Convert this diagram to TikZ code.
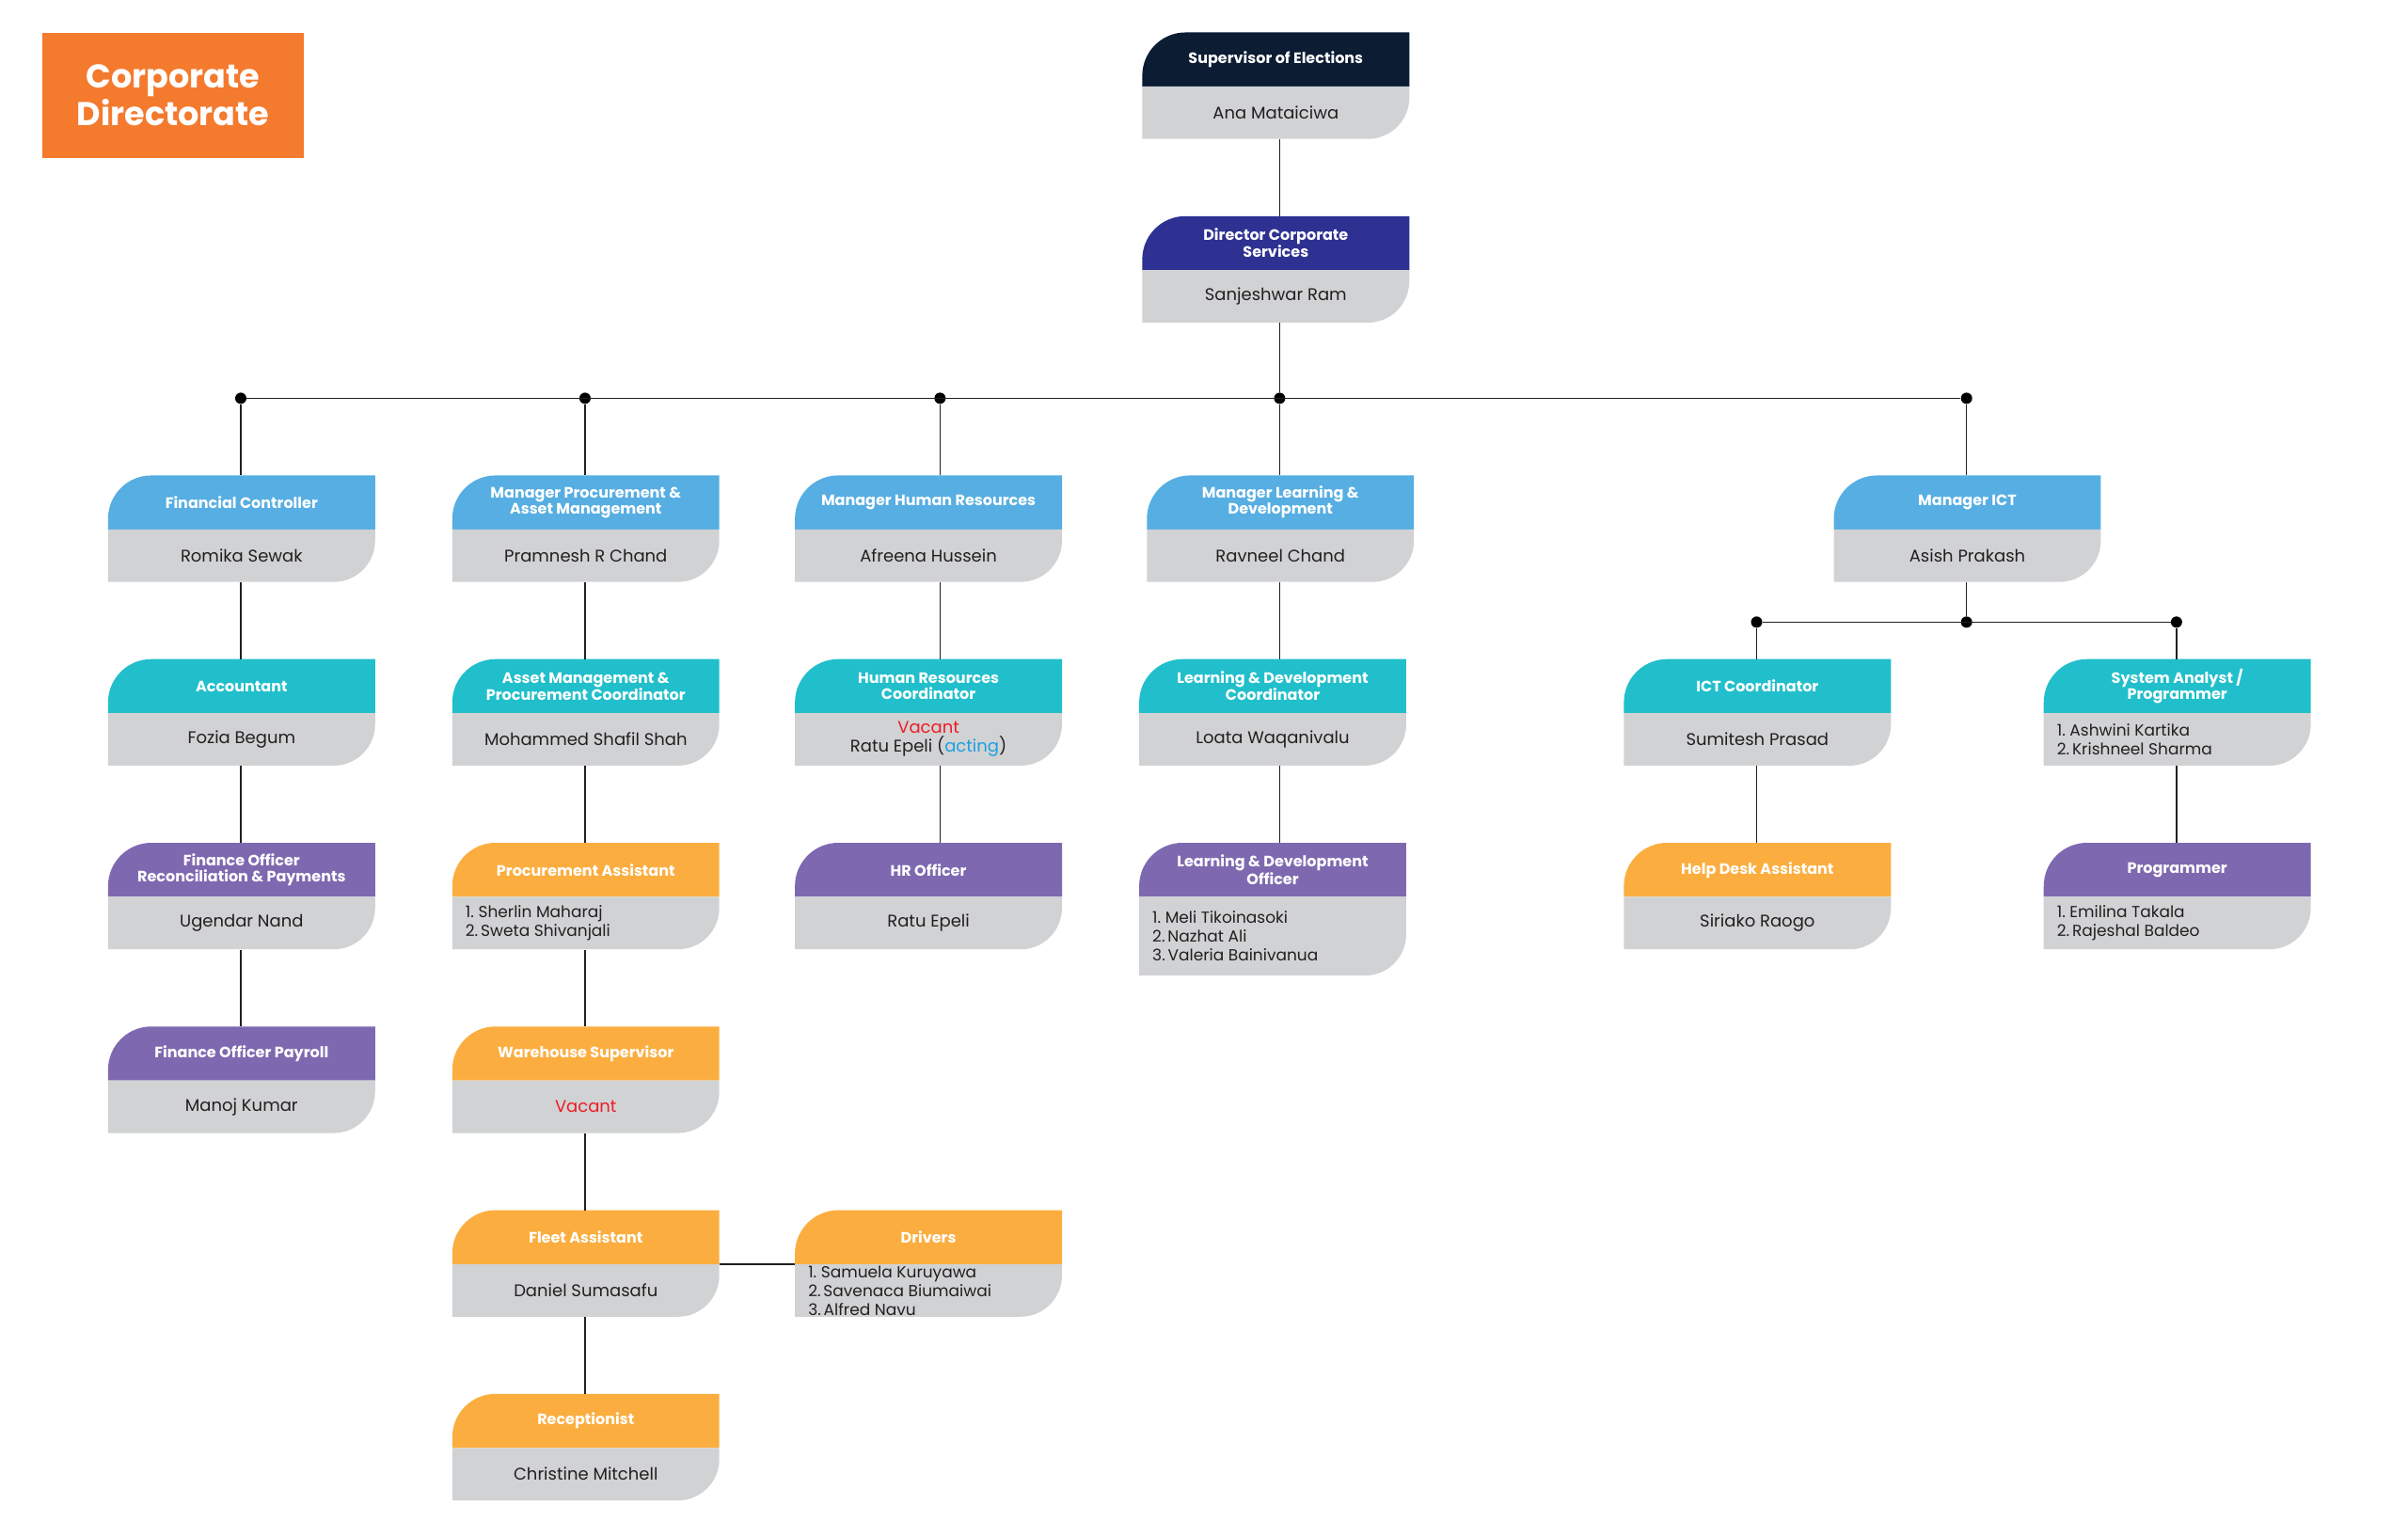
\documentclass[tikz,border=0pt]{standalone}
\usepackage{fontspec}
\setmainfont{Poppins}
\definecolor{cnavy}{HTML}{0C1C33}
\definecolor{cindigo}{HTML}{2E3192}
\definecolor{clblue}{HTML}{56AEE2}
\definecolor{cteal}{HTML}{21BFCB}
\definecolor{cpurple}{HTML}{7E69B0}
\definecolor{corange}{HTML}{FBAE3F}
\definecolor{cgrey}{HTML}{D1D2D4}
\definecolor{ctitle}{HTML}{F47A2E}
\definecolor{ctext}{HTML}{231F20}
\definecolor{cred}{HTML}{ED1C24}
\definecolor{cacting}{HTML}{1BA1E2}
\tikzset{
 htext/.style={text=white,font=\fontsize{16}{17}\selectfont\bfseries,align=center,inner sep=0pt},
 btext/.style={text=ctext,font=\fontsize{18}{20}\selectfont,align=center,inner sep=0pt},
 ltext/.style={text=ctext,font=\fontsize{17}{20}\selectfont,align=left,inner sep=0pt,anchor=west,xshift=-128pt},
 conn/.style={line width=1.6pt,draw=ctext},
 dot/.style={circle,fill=black,inner sep=0pt,minimum size=12pt},
}
% name, x, y, color, title, bodyh, bodystyle, body
\newcommand\obox[8]{%
 \node[inner sep=0pt,minimum width=284pt,minimum height={(35+#6)*1.641pt},anchor=north west] (#1) at (#2,#3) {};
 \fill[#4] (#2,#3+35) [rounded corners=46pt] -- (#2,#3) [sharp corners] -- (#2+173,#3) -- (#2+173,#3+35) -- cycle;
 \fill[cgrey] (#2,#3+35) -- (#2+173,#3+35) [rounded corners=44pt] -- (#2+173,#3+35+#6) [sharp corners] -- (#2,#3+35+#6) -- cycle;
 \node[htext] at (#2+86.5,#3+17.5) {#5};
 \node[#7] at (#2+86.5,#3+35+#6/2) {#8};
}
\begin{document}
\begin{tikzpicture}[x=1.641pt,y=-1.641pt]
\useasboundingbox (0,0) rectangle (1560,995.7);
% title
\node[fill=ctitle,minimum width={170*1.641pt},minimum height={81*1.641pt},anchor=north west,text=white,font=\fontsize{35}{40}\selectfont\bfseries,align=center,inner sep=0pt] (title) at (27,21) {Corporate\\Directorate};
% boxes
\obox{sup}{740}{21}{cnavy}{Supervisor of Elections}{34}{btext}{Ana Mataiciwa}
\obox{dir}{740}{140}{cindigo}{Director Corporate\\Services}{34}{btext}{Sanjeshwar Ram}
% col1
\obox{fc}{70}{308}{clblue}{Financial Controller}{34}{btext}{Romika Sewak}
\obox{acc}{70}{427}{cteal}{Accountant}{34}{btext}{Fozia Begum}
\obox{for}{70}{546}{cpurple}{Finance Officer\\Reconciliation \& Payments}{34}{btext}{Ugendar Nand}
\obox{fop}{70}{665}{cpurple}{Finance Officer Payroll}{34}{btext}{Manoj Kumar}
% col2
\obox{mpa}{293}{308}{clblue}{Manager Procurement \&\\Asset Management}{34}{btext}{Pramnesh R Chand}
\obox{amp}{293}{427}{cteal}{Asset Management \&\\Procurement Coordinator}{34}{btext}{Mohammed Shafil Shah}
\obox{pa}{293}{546}{corange}{Procurement Assistant}{34}{ltext}{1.\ Sherlin Maharaj\\2.\,Sweta Shivanjali}
\obox{ws}{293}{665}{corange}{Warehouse Supervisor}{34}{btext}{\textcolor{cred}{Vacant}}
\obox{fa}{293}{784}{corange}{Fleet Assistant}{34}{btext}{Daniel Sumasafu}
\obox{rec}{293}{903}{corange}{Receptionist}{34}{btext}{Christine Mitchell}
\obox{drv}{515}{784}{corange}{Drivers}{34}{ltext}{1.\ Samuela Kuruyawa\\2.\,Savenaca Biumaiwai\\3.\,Alfred Navu}
% col3
\obox{mhr}{515}{308}{clblue}{Manager Human Resources}{34}{btext}{Afreena Hussein}
\obox{hrc}{515}{427}{cteal}{Human Resources\\Coordinator}{34}{btext}{\textcolor{cred}{Vacant}\\Ratu Epeli (\textcolor{cacting}{acting})}
\obox{hro}{515}{546}{cpurple}{HR Officer}{34}{btext}{Ratu Epeli}
% col4
\obox{mld}{743}{308}{clblue}{Manager Learning \&\\Development}{34}{btext}{Ravneel Chand}
\obox{ldc}{738}{427}{cteal}{Learning \& Development\\Coordinator}{34}{btext}{Loata Waqanivalu}
\obox{ldo}{738}{546}{cpurple}{Learning \& Development\\Officer}{51}{ltext}{1.\ Meli Tikoinasoki\\2.\,Nazhat Ali\\3.\,Valeria Bainivanua}
% col5
\obox{mict}{1188}{308}{clblue}{Manager ICT}{34}{btext}{Asish Prakash}
\obox{ictc}{1052}{427}{cteal}{ICT Coordinator}{34}{btext}{Sumitesh Prasad}
\obox{hda}{1052}{546}{corange}{Help Desk Assistant}{34}{btext}{Siriako Raogo}
\obox{sap}{1324}{427}{cteal}{System Analyst /\\Programmer}{34}{ltext}{1.\ Ashwini Kartika\\2.\,Krishneel Sharma}
\obox{prg}{1324}{546}{cpurple}{Programmer}{34}{ltext}{1.\ Emilina Takala\\2.\,Rajeshal Baldeo}
% bus dots
\node[dot] (d1) at (156,258) {};
\node[dot] (d2) at (379,258) {};
\node[dot] (d3) at (609,258) {};
\node[dot] (d4) at (829,258) {};
\node[dot] (d5) at (1274,258) {};
\node[dot] (e1) at (1138,403) {};
\node[dot] (e2) at (1274,403) {};
\node[dot] (e3) at (1410,403) {};
\begin{scope}[on background layer/.try]
\end{scope}
% connectors
\draw[conn] (sup.south -| d4) -- (dir.north -| d4);
\draw[conn] (dir.south -| d4) -- (d4);
\draw[conn] (d1) -- (d5);
\draw[conn] (d1) -- (fc.north -| d1);
\draw[conn] (d2) -- (mpa.north -| d2);
\draw[conn] (d3) -- (mhr.north -| d3);
\draw[conn] (d4) -- (mld.north -| d4);
\draw[conn] (d5) -- (mict.north -| d5);
\draw[conn] (fc.south -| d1) -- (acc.north -| d1);
\draw[conn] (acc.south -| d1) -- (for.north -| d1);
\draw[conn] (for.south -| d1) -- (fop.north -| d1);
\draw[conn] (mpa.south -| d2) -- (amp.north -| d2);
\draw[conn] (amp.south -| d2) -- (pa.north -| d2);
\draw[conn] (pa.south -| d2) -- (ws.north -| d2);
\draw[conn] (ws.south -| d2) -- (fa.north -| d2);
\draw[conn] (fa.south -| d2) -- (rec.north -| d2);
\draw[conn] ([yshift={-35*1.641pt}]fa.north east) -- ([yshift={-35*1.641pt}]drv.north west);
\draw[conn] (mhr.south -| d3) -- (hrc.north -| d3);
\draw[conn] (hrc.south -| d3) -- (hro.north -| d3);
\draw[conn] (mld.south -| d4) -- (ldc.north -| d4);
\draw[conn] (ldc.south -| d4) -- (ldo.north -| d4);
\draw[conn] (mict.south -| e2) -- (e2);
\draw[conn] (e1) -- (e3);
\draw[conn] (e1) -- (ictc.north -| e1);
\draw[conn] (e3) -- (sap.north -| e3);
\draw[conn] (ictc.south -| e1) -- (hda.north -| e1);
\draw[conn] (sap.south -| e3) -- (prg.north -| e3);
\end{tikzpicture}
\end{document}
